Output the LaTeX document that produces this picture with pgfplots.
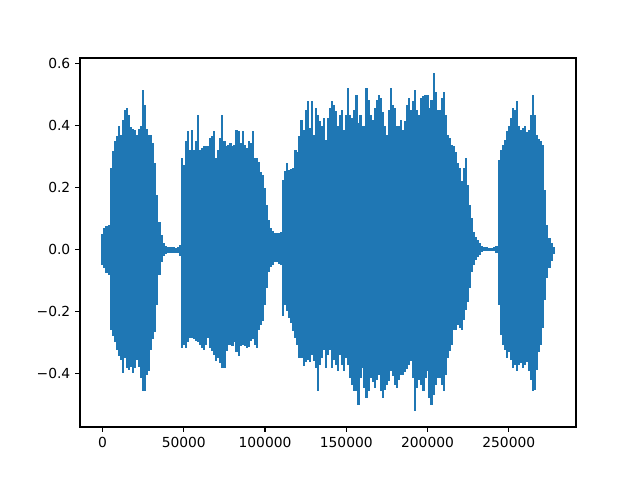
\documentclass[border=0pt]{standalone}
\usepackage{fontspec}
\setmainfont{DejaVu Sans}
\usepackage{pgfplots}
\usepackage{pgfplotstable}
\pgfplotsset{compat=1.18}
\definecolor{mplblue}{RGB}{31,119,180}

% envelope of the waveform: upper and lower peak per 1250 samples
\pgfplotstableread{
x hi lo
0 0.050 -0.050
1250 0.070 -0.060
2500 0.076 -0.076
3750 0.080 -0.082
5000 0.263 -0.260
6250 0.318 -0.280
7500 0.350 -0.300
8750 0.366 -0.324
10000 0.398 -0.344
11250 0.370 -0.356
12500 0.418 -0.398
13750 0.450 -0.350
15000 0.456 -0.382
16250 0.434 -0.390
17500 0.395 -0.380
18750 0.390 -0.398
20000 0.385 -0.382
21250 0.370 -0.356
22500 0.390 -0.379
23750 0.400 -0.415
25000 0.515 -0.456
26250 0.466 -0.456
27500 0.390 -0.405
28750 0.370 -0.392
30000 0.370 -0.324
31250 0.344 -0.290
32500 0.280 -0.266
33750 0.176 -0.180
35000 0.089 -0.082
36250 0.047 -0.040
37500 0.021 -0.021
38750 0.011 -0.014
40000 0.009 -0.011
41250 0.008 -0.010
42500 0.008 -0.010
43750 0.007 -0.010
45000 0.006 -0.010
46250 0.008 -0.012
47500 0.015 -0.020
48750 0.295 -0.318
50000 0.273 -0.308
51250 0.350 -0.318
52500 0.382 -0.300
53750 0.320 -0.285
55000 0.385 -0.285
56250 0.320 -0.290
57500 0.350 -0.295
58750 0.434 -0.300
60000 0.320 -0.308
61250 0.327 -0.318
62500 0.334 -0.324
63750 0.334 -0.308
65000 0.334 -0.285
66250 0.360 -0.318
67500 0.366 -0.327
68750 0.382 -0.340
70000 0.295 -0.360
71250 0.320 -0.350
72500 0.360 -0.366
73750 0.434 -0.382
75000 0.350 -0.382
76250 0.334 -0.327
77500 0.337 -0.308
78750 0.343 -0.308
80000 0.334 -0.311
81250 0.337 -0.300
82500 0.385 -0.330
83750 0.382 -0.344
85000 0.343 -0.311
86250 0.382 -0.308
87500 0.337 -0.311
88750 0.327 -0.318
90000 0.350 -0.314
91250 0.343 -0.295
92500 0.382 -0.290
93750 0.295 -0.308
95000 0.295 -0.318
96250 0.282 -0.260
97500 0.250 -0.244
98750 0.240 -0.231
100000 0.198 -0.180
101250 0.144 -0.124
102500 0.095 -0.073
103750 0.069 -0.056
105000 0.060 -0.050
106250 0.053 -0.040
107500 0.053 -0.040
108750 0.053 -0.047
110000 0.056 -0.050
111250 0.224 -0.215
112500 0.253 -0.180
113750 0.280 -0.200
115000 0.256 -0.221
116250 0.260 -0.237
117500 0.263 -0.263
118750 0.321 -0.285
120000 0.315 -0.308
121250 0.366 -0.350
122500 0.418 -0.350
123750 0.385 -0.376
125000 0.450 -0.363
126250 0.479 -0.356
127500 0.392 -0.363
128750 0.479 -0.340
130000 0.369 -0.360
131250 0.456 -0.382
132500 0.434 -0.456
133750 0.415 -0.373
135000 0.400 -0.350
136250 0.423 -0.324
137500 0.353 -0.382
138750 0.423 -0.340
140000 0.456 -0.324
141250 0.479 -0.382
142500 0.466 -0.356
143750 0.447 -0.373
145000 0.400 -0.392
146250 0.434 -0.340
147500 0.450 -0.373
148750 0.385 -0.392
150000 0.434 -0.350
151250 0.521 -0.373
152500 0.434 -0.415
153750 0.423 -0.437
155000 0.450 -0.456
156250 0.498 -0.456
157500 0.408 -0.502
158750 0.434 -0.415
160000 0.400 -0.382
161250 0.400 -0.447
162500 0.521 -0.479
163750 0.482 -0.456
165000 0.434 -0.415
166250 0.418 -0.427
167500 0.456 -0.447
168750 0.482 -0.421
170000 0.498 -0.405
171250 0.489 -0.456
172500 0.443 -0.479
173750 0.400 -0.453
175000 0.369 -0.437
176250 0.450 -0.424
177500 0.521 -0.392
178750 0.466 -0.408
180000 0.456 -0.437
181250 0.400 -0.447
182500 0.400 -0.421
183750 0.418 -0.405
185000 0.385 -0.405
186250 0.415 -0.395
187500 0.466 -0.385
188750 0.489 -0.373
190000 0.450 -0.360
191250 0.479 -0.415
192500 0.515 -0.521
193750 0.450 -0.447
195000 0.434 -0.421
196250 0.489 -0.437
197500 0.495 -0.456
198750 0.498 -0.415
200000 0.498 -0.392
201250 0.456 -0.479
202500 0.482 -0.502
203750 0.569 -0.469
205000 0.508 -0.437
206250 0.450 -0.415
207500 0.450 -0.415
208750 0.489 -0.437
210000 0.508 -0.456
211250 0.434 -0.405
212500 0.369 -0.350
213750 0.360 -0.327
215000 0.337 -0.308
216250 0.334 -0.260
217500 0.315 -0.260
218750 0.280 -0.244
220000 0.263 -0.253
221250 0.221 -0.260
222500 0.263 -0.227
223750 0.295 -0.195
225000 0.208 -0.169
226250 0.144 -0.124
227500 0.100 -0.073
228750 0.056 -0.050
230000 0.040 -0.034
231250 0.031 -0.024
232500 0.021 -0.018
233750 0.011 -0.008
235000 0.008 -0.005
236250 0.007 -0.004
237500 0.006 -0.004
238750 0.006 -0.004
240000 0.006 -0.005
241250 0.008 -0.006
242500 0.012 -0.012
243750 0.289 -0.180
245000 0.321 -0.276
246250 0.337 -0.308
247500 0.353 -0.324
248750 0.382 -0.350
250000 0.400 -0.330
251250 0.424 -0.356
252500 0.456 -0.382
253750 0.450 -0.373
255000 0.479 -0.392
256250 0.400 -0.373
257500 0.385 -0.366
258750 0.392 -0.382
260000 0.400 -0.373
261250 0.379 -0.363
262500 0.385 -0.392
263750 0.434 -0.421
265000 0.498 -0.456
266250 0.434 -0.453
267500 0.369 -0.389
268750 0.356 -0.330
270000 0.350 -0.308
271250 0.337 -0.253
272500 0.192 -0.163
273750 0.079 -0.092
275000 0.037 -0.060
276250 0.021 -0.037
277500 0.008 -0.014
}\wave

\begin{document}
\begin{tikzpicture}
	\begin{axis}[
			scale only axis,
			width=4.96in,
			height=3.69in,
			xmin=-13875, xmax=291375,
			ymin=-0.573, ymax=0.618,
			axis line style={line width=0.8pt},
			tick align=outside,
			major tick length=3.5pt,
			every tick/.style={black, line width=0.8pt},
			xtick pos=left, ytick pos=left,
			scaled x ticks=false,
			xtick={0,50000,100000,150000,200000,250000},
			xticklabels={0,50000,100000,150000,200000,250000},
			ytick={-0.4,-0.2,0,0.2,0.4,0.6},
			yticklabels={−0.4,−0.2,0.0,0.2,0.4,0.6},
			tick label style={font=\fontsize{10}{12}\selectfont},
			/pgf/number format/assume math mode=true,
		]
		\addplot[ycomb, mplblue, line width=1.6pt, mark=none] table[x=x, y=hi] {\wave};
		\addplot[ycomb, mplblue, line width=1.6pt, mark=none] table[x=x, y=lo] {\wave};
	\end{axis}
	% figure margins as in the original figure
	\path (current axis.south west) ++(-0.8in,-0.53in) coordinate (bl);
	\path (current axis.north east) ++(0.64in,0.58in) coordinate (tr);
	\path (bl) rectangle (tr);
\end{tikzpicture}
\end{document}
